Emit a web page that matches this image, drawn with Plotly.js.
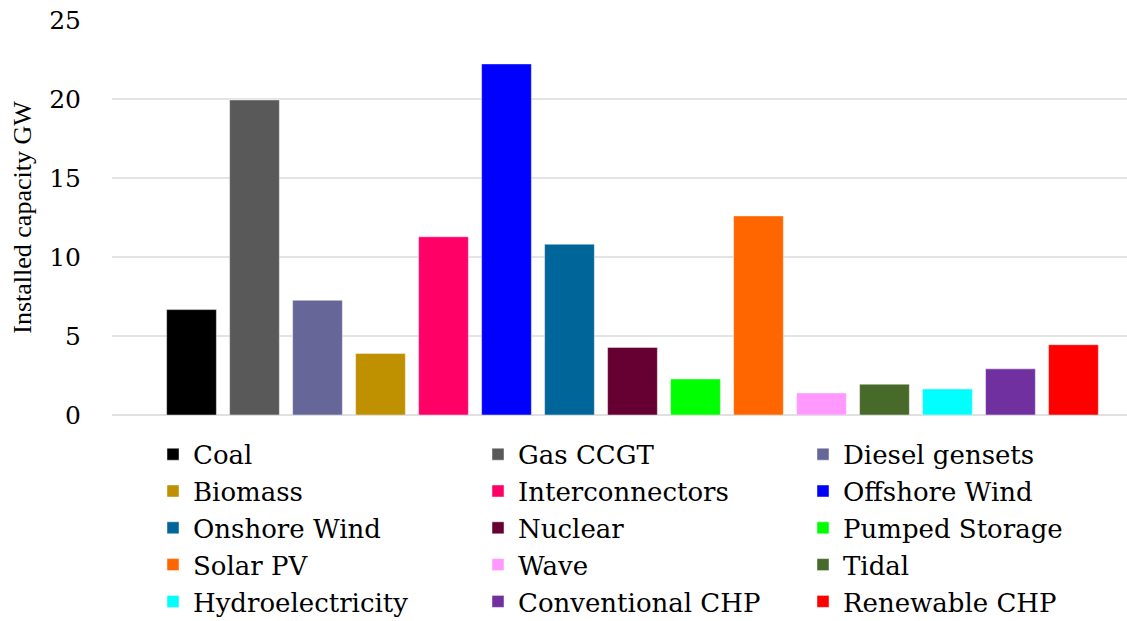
<!DOCTYPE html>
<html>
<head>
<meta charset="utf-8">
<script src="https://cdn.plot.ly/plotly-3.0.1.min.js"></script>
<style>html,body{margin:0;padding:0;background:#fff;}#chart{width:1127px;height:621px;}</style>
</head>
<body>
<div id="chart"></div>
<script>
const categories = ["Coal","Gas CCGT","Diesel gensets","Biomass","Interconnectors","Offshore Wind","Onshore Wind","Nuclear","Pumped Storage","Solar PV","Wave","Tidal","Hydroelectricity","Conventional CHP","Renewable CHP"];
const capacityGW = [6.67, 19.94, 7.26, 3.9, 11.28, 22.22, 10.81, 4.28, 2.28, 12.6, 1.4, 1.95, 1.65, 2.92, 4.45];
const colors = ["#000000","#595959","#666699","#BF9000","#FF0066","#0000FF","#006699","#660033","#00FF00","#FF6600","#FF99FF","#476A2B","#00FFFF","#7030A0","#FF0000"];
const yTicks = [0, 5, 10, 15, 20, 25];

const traces = categories.map((c, i) => ({
  type: 'bar',
  name: c,
  x: [c],
  y: [capacityGW[i]],
  width: 0.79,
  marker: {color: colors[i], line: {color: 'rgba(255,255,255,0.45)', width: 1}},
  hoverinfo: 'x+y'
}));

const layout = {
  width: 1127,
  height: 621,
  margin: {l: 112, r: 0, t: 20, b: 206, autoexpand: false},
  paper_bgcolor: '#ffffff',
  plot_bgcolor: '#ffffff',
  barmode: 'overlay',
  showlegend: true,
  font: {family: 'DejaVu Serif', color: '#000000'},
  xaxis: {
    type: 'category',
    categoryarray: categories,
    range: [-1.262, 14.85],
    showticklabels: false,
    showgrid: false,
    zeroline: false,
    showline: false,
    ticks: ''
  },
  yaxis: {
    range: [0, 25],
    tickvals: yTicks,
    ticktext: yTicks.map(String),
    tickfont: {family: 'DejaVu Serif', size: 25, color: '#000000'},
    ticklabelstandoff: 30,
    showgrid: true,
    gridcolor: '#e4e4e4',
    gridwidth: 1.5,
    zeroline: true,
    zerolinecolor: '#e0e0e0',
    zerolinewidth: 1.5,
    showline: false,
    ticks: '',
    title: {text: 'Installed capacity GW', standoff: 10, font: {family: 'Liberation Serif', size: 26, color: '#000000'}}
  },
  legend: {
    orientation: 'h',
    x: 0.0404,
    xanchor: 'left',
    y: -0.040,
    yanchor: 'top',
    entrywidth: 280,
    entrywidthmode: 'pixels',
    traceorder: 'normal',
    font: {family: 'DejaVu Serif', size: 26, color: '#000000'},
    bgcolor: 'rgba(0,0,0,0)'
  }
};

Plotly.newPlot('chart', traces, layout, {displayModeBar: false, staticPlot: true});
</script>
</body>
</html>
